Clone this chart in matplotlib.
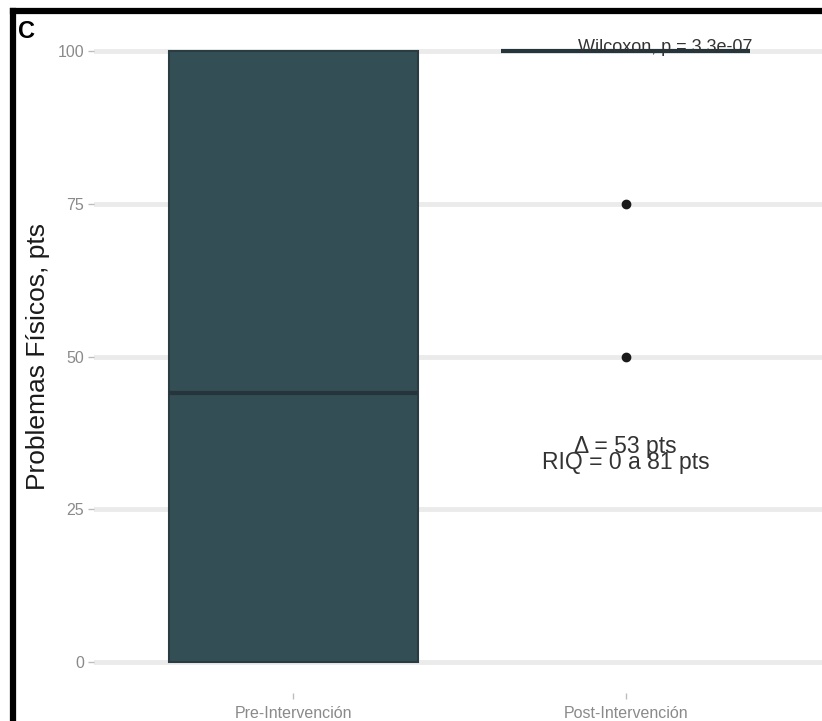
import matplotlib.pyplot as plt
from matplotlib.lines import Line2D

plt.rcParams['font.family'] = ['Liberation Sans', 'DejaVu Sans']

# group summaries (pts)
groups = ['Pre-Intervención', 'Post-Intervención']
q1 = [0, 100]
medians = [44, 100]
q3 = [100, 100]
whisker_lo = [0, 100]
whisker_hi = [100, 100]
outliers = [[], [75, 50]]

yticks = [0, 25, 50, 75, 100]
test_label = 'Wilcoxon, p = 3.3e-07'
delta_label = 'Δ = 53 pts'
iqr_label = 'RIQ = 0 a 81 pts'

box_color = '#344e56'
edge_color = '#2a3c42'

fig = plt.figure(figsize=(8.22, 7.21), dpi=100)
ax = fig.add_axes([0.114, 0.0395, 0.89, 0.932])

stats = []
for i, g in enumerate(groups):
    stats.append({'label': g, 'q1': q1[i], 'med': medians[i], 'q3': q3[i],
                  'whislo': whisker_lo[i], 'whishi': whisker_hi[i],
                  'fliers': outliers[i]})

ax.bxp(stats, positions=[1, 2], widths=0.75, patch_artist=True,
       boxprops=dict(facecolor=box_color, edgecolor=edge_color, linewidth=1.5),
       medianprops=dict(color='#25353b', linewidth=3),
       whiskerprops=dict(color=edge_color, linewidth=1.5),
       capprops=dict(linewidth=0),
       flierprops=dict(marker='o', markerfacecolor='#1a1a1a', markeredgecolor='#1a1a1a',
                       markersize=6),
       zorder=3)

ax.set_xlim(0.4, 2.6)
ax.set_ylim(-5, 105)
ax.set_yticks(yticks)
ax.set_yticklabels([str(v) for v in yticks])
ax.set_xticks([1, 2])
ax.set_xticklabels(groups)

ax.grid(axis='y', color='#ebebeb', linewidth=3.5, zorder=0)
ax.set_axisbelow(True)
for spine in ax.spines.values():
    spine.set_visible(False)
ax.tick_params(axis='both', colors='#bdbdbd', length=4, width=1, labelsize=11.5,
               labelcolor='#8a8a8a', pad=3)
ax.tick_params(axis='x', pad=6)

ax.set_ylabel('Problemas Físicos, pts', fontsize=19, color='#1a1a1a', labelpad=5)

ax.text(2.12, 100.6, test_label, ha='center', va='center', fontsize=13,
        color='#333333', zorder=4)
# stacked annotation, lines drawn tightly together
ax.text(2.0, 34.0, delta_label + '\n' + iqr_label, ha='center', va='center',
        fontsize=16.5, color='#333333', linespacing=0.62, zorder=4)

fig.text(0.022, 0.957, 'C', fontsize=17, fontweight='bold', ha='left', va='center')

# outer frame (top and left edges)
fig.add_artist(Line2D([0.0158, 1.0], [0.9847, 0.9847], color='black', linewidth=4.5,
                      transform=fig.transFigure))
fig.add_artist(Line2D([0.0158, 0.0158], [0.0, 0.9847], color='black', linewidth=4.5,
                      transform=fig.transFigure))

fig.savefig('out.png', dpi=100)
